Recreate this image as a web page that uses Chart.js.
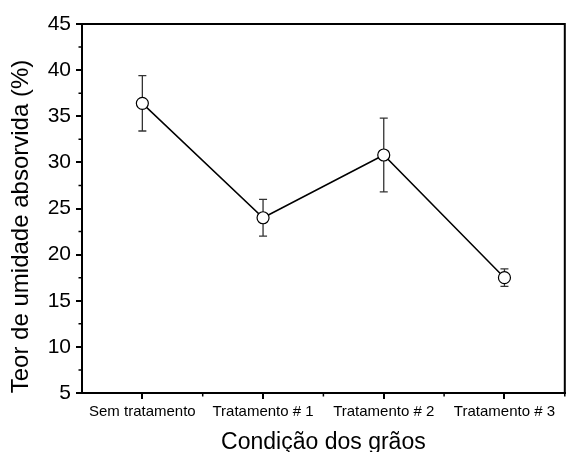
<!DOCTYPE html>
<html>
<head>
<meta charset="utf-8">
<script src="https://cdn.jsdelivr.net/npm/chart.js@4.4.0/dist/chart.umd.min.js"></script>
<style>
  html, body { margin: 0; padding: 0; background: #fff; }
  #wrap { width: 572px; height: 452px; }
</style>
</head>
<body>
<div id="wrap"><canvas id="moistureChart"></canvas></div>
<script>
const categories = ["Sem tratamento", "Tratamento # 1", "Tratamento # 2", "Tratamento # 3"];
const moisture = [36.4, 24.0, 30.8, 17.5];
const moistureError = [3.0, 2.0, 4.0, 0.95];
const yMin = 5, yMax = 45, yStep = 5;
const xTitle = "Condição dos grãos";
const yTitle = "Teor de umidade absorvida (%)";
const FONT = "'Liberation Sans', Arial, sans-serif";

// barras de erro, desenhadas antes dos marcadores
const errorBars = {
  id: "errorBars",
  beforeDatasetsDraw(chart) {
    const ctx = chart.ctx;
    const x = chart.scales.x, y = chart.scales.y;
    ctx.save();
    ctx.strokeStyle = "#333";
    ctx.lineWidth = 1.3;
    moisture.forEach((v, i) => {
      const px = x.getPixelForValue(i);
      const top = y.getPixelForValue(v + moistureError[i]);
      const bot = y.getPixelForValue(v - moistureError[i]);
      ctx.beginPath();
      ctx.moveTo(px, top); ctx.lineTo(px, bot);
      ctx.moveTo(px - 4, top); ctx.lineTo(px + 4, top);
      ctx.moveTo(px - 4, bot); ctx.lineTo(px + 4, bot);
      ctx.stroke();
    });
    ctx.restore();
  }
};

// moldura, ticks menores e titulo do eixo y
const frame = {
  id: "frame",
  afterDraw(chart) {
    const ctx = chart.ctx;
    const a = chart.chartArea;
    const x = chart.scales.x, y = chart.scales.y;
    ctx.save();
    ctx.strokeStyle = "#000";
    ctx.lineWidth = 2;
    ctx.beginPath();
    ctx.moveTo(a.left, a.top); ctx.lineTo(a.right, a.top); ctx.lineTo(a.right, a.bottom);
    ctx.stroke();

    ctx.lineWidth = 1.5;
    ctx.beginPath();
    for (let v = yMin + yStep / 2; v < yMax; v += yStep) {
      const py = y.getPixelForValue(v);
      ctx.moveTo(a.left - 3.5, py); ctx.lineTo(a.left, py);
    }
    const half = (x.getPixelForValue(1) - x.getPixelForValue(0)) / 2;
    for (let i = 0; i < categories.length; i++) {
      const px = x.getPixelForValue(i) + half;
      ctx.moveTo(px, a.bottom); ctx.lineTo(px, a.bottom + 3.5);
    }
    ctx.stroke();

    ctx.fillStyle = "#000";
    ctx.font = "24px " + FONT;
    ctx.textAlign = "center";
    ctx.textBaseline = "middle";
    ctx.translate(21, (a.top + a.bottom) / 2 + 18);
    ctx.rotate(-Math.PI / 2);
    ctx.fillText(yTitle, 0, 0);
    ctx.restore();
  }
};

const ctx = document.getElementById("moistureChart").getContext("2d");

const myChart = new Chart(ctx, {
  type: "line",
  data: {
    labels: categories,
    datasets: [{
      data: moisture,
      borderColor: "#000",
      borderWidth: 1.5,
      tension: 0,
      pointRadius: 6,
      pointHoverRadius: 6,
      pointBackgroundColor: "#fff",
      pointBorderColor: "#000",
      pointBorderWidth: 1.2,
    }],
  },
  options: {
    responsive: true,
    maintainAspectRatio: false,
    animation: false,
    layout: { padding: { top: 24, right: 1, left: 0, bottom: 0 } },
    plugins: {
      legend: { display: false },
      tooltip: { enabled: false },
    },
    scales: {
      x: {
        offset: true,
        grid: { drawOnChartArea: false, offset: false, tickLength: 6, color: "#000", lineWidth: 2 },
        border: { color: "#000", width: 2 },
        ticks: { color: "#000", font: { family: FONT, size: 15 }, padding: 4, maxRotation: 0, autoSkip: false },
        title: { display: true, text: xTitle, color: "#000", font: { family: FONT, size: 23, lineHeight: 1 }, padding: { top: 0, bottom: -2 } },
        afterFit: (s) => { s.height = 59; },
      },
      y: {
        min: yMin,
        max: yMax,
        ticks: { stepSize: yStep, color: "#000", font: { family: FONT, size: 21 }, padding: 5 },
        grid: { drawOnChartArea: false, tickLength: 6, color: "#000", lineWidth: 2 },
        border: { color: "#000", width: 2 },
        afterFit: (s) => { s.width = 82; },
      },
    },
  },
  plugins: [errorBars, frame],
});
</script>
</body>
</html>
